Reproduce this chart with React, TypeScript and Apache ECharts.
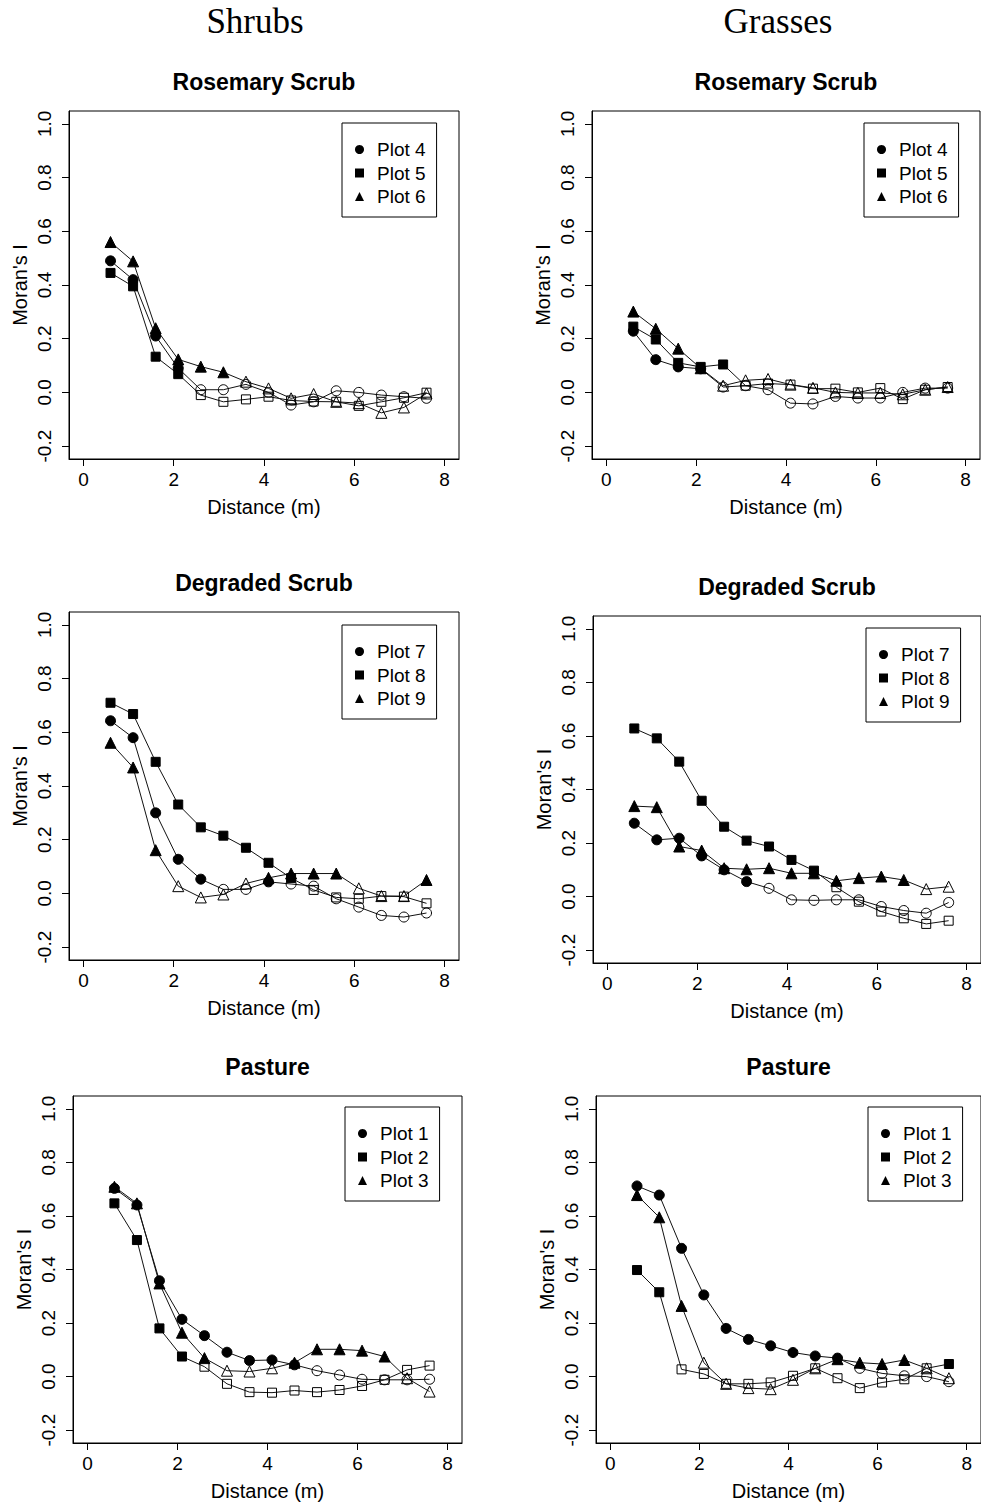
import React, { useEffect, useRef } from "react";
import * as echarts from "echarts";

// ---- data ----
const distances = [0.6, 1.1, 1.6, 2.1, 2.6, 3.1, 3.6, 4.1, 4.6, 5.1, 5.6, 6.1, 6.6, 7.1, 7.6];
const xTicks = [0, 2, 4, 6, 8];
const yTicks = [-0.2, 0, 0.2, 0.4, 0.6, 0.8, 1.0];
const columnTitles = ["Shrubs", "Grasses"];
const panelTitles = ["Rosemary Scrub", "Rosemary Scrub", "Degraded Scrub", "Degraded Scrub", "Pasture", "Pasture"];
const rosemaryNames = ["Plot 4", "Plot 5", "Plot 6"];
const degradedNames = ["Plot 7", "Plot 8", "Plot 9"];
const pastureNames = ["Plot 1", "Plot 2", "Plot 3"];

// Shrubs – Rosemary Scrub
const shrubRosemaryPlot4 = [0.49, 0.42, 0.21, 0.09, 0.01, 0.01, 0.03, 0.0, -0.047, -0.035, 0.006, 0.0, -0.01, -0.016, -0.022];
const shrubRosemaryPlot4Sig = [1, 1, 1, 1, 0, 0, 0, 0, 0, 0, 0, 0, 0, 0, 0];
const shrubRosemaryPlot5 = [0.445, 0.395, 0.133, 0.068, -0.01, -0.035, -0.026, -0.016, -0.03, -0.034, -0.035, -0.05, -0.035, -0.02, -0.001];
const shrubRosemaryPlot5Sig = [1, 1, 1, 1, 0, 0, 0, 0, 0, 0, 0, 0, 0, 0, 0];
const shrubRosemaryPlot6 = [0.56, 0.488, 0.239, 0.123, 0.096, 0.075, 0.04, 0.015, -0.022, -0.006, -0.035, -0.04, -0.076, -0.056, -0.004];
const shrubRosemaryPlot6Sig = [1, 1, 1, 1, 1, 1, 0, 0, 0, 0, 0, 0, 0, 0, 0];

// Grasses – Rosemary Scrub
const grassRosemaryPlot4 = [0.228, 0.122, 0.095, 0.088, 0.02, 0.025, 0.01, -0.04, -0.043, -0.015, -0.021, -0.021, 0.0, 0.016, 0.016];
const grassRosemaryPlot4Sig = [1, 1, 1, 1, 0, 0, 0, 0, 0, 0, 0, 0, 0, 0, 0];
const grassRosemaryPlot5 = [0.245, 0.197, 0.11, 0.095, 0.104, 0.025, 0.033, 0.029, 0.014, 0.014, 0.0, 0.016, -0.025, 0.01, 0.02];
const grassRosemaryPlot5Sig = [1, 1, 1, 1, 1, 0, 0, 0, 0, 0, 0, 0, 0, 0, 0];
const grassRosemaryPlot6 = [0.301, 0.237, 0.163, 0.09, 0.025, 0.045, 0.05, 0.029, 0.017, 0.0, -0.002, -0.002, -0.007, 0.01, 0.02];
const grassRosemaryPlot6Sig = [1, 1, 1, 1, 0, 0, 0, 0, 0, 0, 0, 0, 0, 0, 0];

// Shrubs – Degraded Scrub
const shrubDegradedPlot7 = [0.643, 0.58, 0.3, 0.127, 0.053, 0.015, 0.015, 0.043, 0.035, 0.027, -0.02, -0.051, -0.082, -0.088, -0.073];
const shrubDegradedPlot7Sig = [1, 1, 1, 1, 1, 0, 0, 1, 0, 0, 0, 0, 0, 0, 0];
const shrubDegradedPlot8 = [0.71, 0.668, 0.49, 0.331, 0.246, 0.215, 0.17, 0.114, 0.057, 0.013, -0.015, -0.02, -0.01, -0.012, -0.037];
const shrubDegradedPlot8Sig = [1, 1, 1, 1, 1, 1, 1, 1, 1, 0, 0, 0, 0, 0, 0];
const shrubDegradedPlot9 = [0.561, 0.469, 0.161, 0.027, -0.015, -0.004, 0.037, 0.058, 0.074, 0.074, 0.074, 0.019, -0.01, -0.01, 0.05];
const shrubDegradedPlot9Sig = [1, 1, 1, 0, 0, 0, 0, 1, 1, 1, 1, 0, 0, 0, 1];

// Grasses – Degraded Scrub
const grassDegradedPlot7 = [0.274, 0.212, 0.218, 0.152, 0.1, 0.056, 0.031, -0.012, -0.014, -0.012, -0.012, -0.037, -0.052, -0.062, -0.022];
const grassDegradedPlot7Sig = [1, 1, 1, 1, 1, 1, 0, 0, 0, 0, 0, 0, 0, 0, 0];
const grassDegradedPlot8 = [0.628, 0.591, 0.504, 0.358, 0.261, 0.209, 0.187, 0.137, 0.097, 0.035, -0.019, -0.056, -0.081, -0.102, -0.09];
const grassDegradedPlot8Sig = [1, 1, 1, 1, 1, 1, 1, 1, 1, 0, 0, 0, 0, 0, 0];
const grassDegradedPlot9 = [0.338, 0.334, 0.187, 0.172, 0.106, 0.102, 0.106, 0.087, 0.087, 0.059, 0.069, 0.075, 0.062, 0.028, 0.037];
const grassDegradedPlot9Sig = [1, 1, 1, 1, 1, 1, 1, 1, 1, 1, 1, 1, 1, 0, 0];

// Shrubs – Pasture
const shrubPasturePlot1 = [0.703, 0.641, 0.358, 0.214, 0.153, 0.091, 0.06, 0.062, 0.044, 0.022, 0.006, -0.01, -0.012, -0.012, -0.01];
const shrubPasturePlot1Sig = [1, 1, 1, 1, 1, 1, 1, 1, 1, 0, 0, 0, 0, 0, 0];
const shrubPasturePlot2 = [0.647, 0.51, 0.18, 0.075, 0.037, -0.027, -0.058, -0.06, -0.052, -0.058, -0.05, -0.035, -0.012, 0.025, 0.041];
const shrubPasturePlot2Sig = [1, 1, 1, 1, 0, 0, 0, 0, 0, 0, 0, 0, 0, 0, 0];
const shrubPasturePlot3 = [0.709, 0.647, 0.348, 0.164, 0.069, 0.022, 0.019, 0.031, 0.052, 0.102, 0.102, 0.097, 0.075, -0.006, -0.056];
const shrubPasturePlot3Sig = [1, 1, 1, 1, 1, 0, 0, 0, 1, 1, 1, 1, 1, 0, 0];

// Grasses – Pasture
const grassPasturePlot1 = [0.712, 0.678, 0.479, 0.305, 0.18, 0.139, 0.115, 0.09, 0.077, 0.069, 0.031, 0.012, 0.003, 0.0, -0.019];
const grassPasturePlot1Sig = [1, 1, 1, 1, 1, 1, 1, 1, 1, 1, 0, 0, 0, 0, 0];
const grassPasturePlot2 = [0.398, 0.315, 0.027, 0.01, -0.027, -0.027, -0.022, 0.003, 0.031, -0.006, -0.043, -0.022, -0.01, 0.031, 0.047];
const grassPasturePlot2Sig = [1, 1, 0, 0, 0, 0, 0, 0, 0, 0, 0, 0, 0, 0, 1];
const grassPasturePlot3 = [0.678, 0.595, 0.264, 0.052, -0.027, -0.043, -0.047, -0.012, 0.031, 0.065, 0.052, 0.047, 0.062, 0.031, -0.006];
const grassPasturePlot3Sig = [1, 1, 1, 0, 0, 0, 0, 0, 0, 1, 1, 1, 1, 0, 0];

// ---- layout (pixels) ----
const gridBoxes = [
  { left: 69, top: 111, width: 390, height: 348 },
  { left: 592, top: 111, width: 388, height: 348 },
  { left: 69, top: 612, width: 390, height: 348 },
  { left: 593, top: 616, width: 388, height: 347 },
  { left: 73, top: 1096, width: 389, height: 347 },
  { left: 596, top: 1096, width: 385, height: 347 },
];
const legendPos = [
  { left: 342, top: 123 },
  { left: 864, top: 123 },
  { left: 342, top: 625 },
  { left: 866, top: 628 },
  { left: 345, top: 1107 },
  { left: 868, top: 1107 },
];

const symbols = ["circle", "rect", "triangle"];
const symbolSizes = [10, 9, 11];

const FONT = "Liberation Sans, Arial, sans-serif";

const panels = [
  { names: rosemaryNames, values: [shrubRosemaryPlot4, shrubRosemaryPlot5, shrubRosemaryPlot6], sig: [shrubRosemaryPlot4Sig, shrubRosemaryPlot5Sig, shrubRosemaryPlot6Sig] },
  { names: rosemaryNames, values: [grassRosemaryPlot4, grassRosemaryPlot5, grassRosemaryPlot6], sig: [grassRosemaryPlot4Sig, grassRosemaryPlot5Sig, grassRosemaryPlot6Sig] },
  { names: degradedNames, values: [shrubDegradedPlot7, shrubDegradedPlot8, shrubDegradedPlot9], sig: [shrubDegradedPlot7Sig, shrubDegradedPlot8Sig, shrubDegradedPlot9Sig] },
  { names: degradedNames, values: [grassDegradedPlot7, grassDegradedPlot8, grassDegradedPlot9], sig: [grassDegradedPlot7Sig, grassDegradedPlot8Sig, grassDegradedPlot9Sig] },
  { names: pastureNames, values: [shrubPasturePlot1, shrubPasturePlot2, shrubPasturePlot3], sig: [shrubPasturePlot1Sig, shrubPasturePlot2Sig, shrubPasturePlot3Sig] },
  { names: pastureNames, values: [grassPasturePlot1, grassPasturePlot2, grassPasturePlot3], sig: [grassPasturePlot1Sig, grassPasturePlot2Sig, grassPasturePlot3Sig] },
];

function buildOption() {
  const grid: any[] = [];
  const xAxis: any[] = [];
  const yAxis: any[] = [];
  const series: any[] = [];
  const legend: any[] = [];
  const title: any[] = [];

  title.push({
    text: columnTitles[0], left: 255, top: 4, textAlign: "center", padding: 0,
    textStyle: { fontFamily: "Liberation Serif, Times New Roman, serif", fontSize: 35, fontWeight: "normal", color: "#000" },
  });
  title.push({
    text: columnTitles[1], left: 778, top: 4, textAlign: "center", padding: 0,
    textStyle: { fontFamily: "Liberation Serif, Times New Roman, serif", fontSize: 35, fontWeight: "normal", color: "#000" },
  });

  panels.forEach((p, i) => {
    const g = gridBoxes[i];
    grid.push({
      left: g.left, top: g.top, width: g.width, height: g.height,
      show: true, borderColor: "#000", borderWidth: 1, backgroundColor: "transparent",
    });
    title.push({
      text: panelTitles[i], left: g.left + g.width / 2, top: g.top - 41, textAlign: "center", padding: 0,
      textStyle: { fontFamily: FONT, fontSize: 23, fontWeight: "bold", color: "#000" },
    });
    xAxis.push({
      type: "value", gridIndex: i, min: -0.32, max: 8.32, position: "bottom",
      name: "Distance (m)", nameLocation: "middle", nameGap: 38,
      nameTextStyle: { fontFamily: FONT, fontSize: 20, color: "#000" },
      axisLine: { show: true, onZero: false, lineStyle: { color: "#000", width: 1 } },
      axisTick: { show: true, inside: false, length: 7, customValues: xTicks, lineStyle: { color: "#000", width: 1 } },
      axisLabel: { show: true, margin: 11, customValues: xTicks, fontFamily: FONT, fontSize: 19, color: "#000" },
      splitLine: { show: false },
    });
    yAxis.push({
      type: "value", gridIndex: i, min: -0.248, max: 1.048, position: "left",
      name: "Moran's I", nameLocation: "middle", nameGap: 39,
      nameTextStyle: { fontFamily: FONT, fontSize: 20, color: "#000" },
      axisLine: { show: true, onZero: false, lineStyle: { color: "#000", width: 1 } },
      axisTick: { show: true, inside: false, length: 7, customValues: yTicks, lineStyle: { color: "#000", width: 1 } },
      axisLabel: {
        show: true, margin: 15, rotate: 90, customValues: yTicks,
        formatter: (v: number) => v.toFixed(1),
        fontFamily: FONT, fontSize: 19, color: "#000",
      },
      splitLine: { show: false },
    });
    p.names.forEach((name, k) => {
      series.push({
        type: "line", name, xAxisIndex: i, yAxisIndex: i,
        symbol: symbols[k], symbolSize: symbolSizes[k], showAllSymbol: true,
        lineStyle: { color: "#111", width: 1 },
        itemStyle: { color: "#000", borderColor: "#000", borderWidth: 1 },
        emphasis: { disabled: true },
        data: distances.map((d, j) => ({
          value: [d, p.values[k][j]],
          itemStyle: { color: p.sig[k][j] ? "#000" : "rgba(255,255,255,0)", borderColor: "#000", borderWidth: 1 },
        })),
      });
    });
    legend.push({
      orient: "vertical", left: legendPos[i].left, top: legendPos[i].top,
      padding: [17, 11, 11, 13], itemGap: 4.5, itemWidth: 9, itemHeight: 9,
      borderColor: "#000", borderWidth: 1, borderRadius: 0, backgroundColor: "#fff",
      selectedMode: false,
      textStyle: { fontFamily: FONT, fontSize: 19, color: "#000", padding: [0, 0, 0, 8] },
      data: p.names.map((name, k) => ({
        name, icon: symbols[k],
        itemStyle: { color: "#000", borderWidth: 0 },
      })),
    });
  });

  return { animation: false, backgroundColor: "#fff", title, grid, xAxis, yAxis, series, legend };
}

export default function App() {
  const ref = useRef<HTMLDivElement>(null);
  useEffect(() => {
    if (!ref.current) return;
    const chart = echarts.init(ref.current, undefined, { renderer: "svg" });
    chart.setOption(buildOption() as any);
    return () => chart.dispose();
  }, []);
  return <div ref={ref} style={{ position: "absolute", left: 0, top: 0, width: 981, height: 1506 }} />;
}
